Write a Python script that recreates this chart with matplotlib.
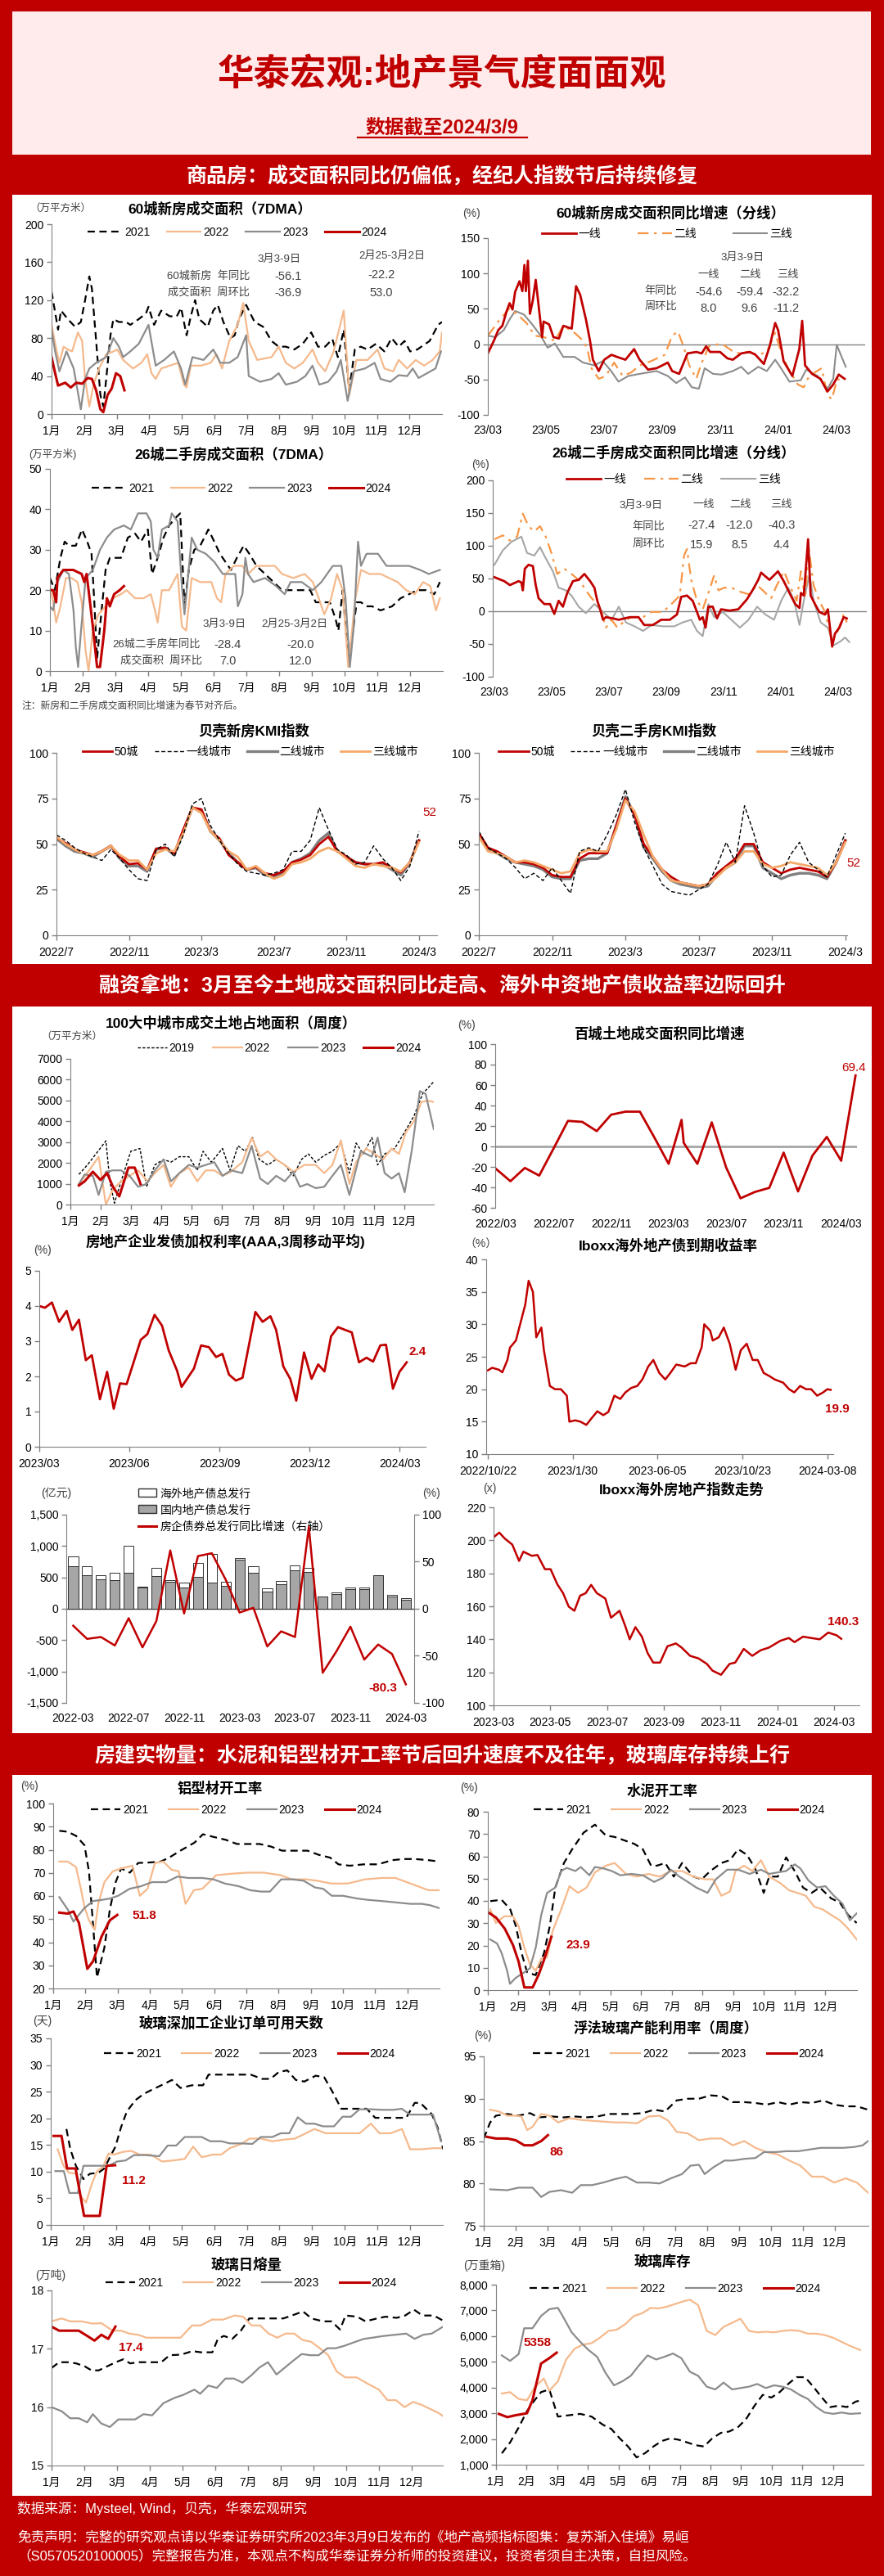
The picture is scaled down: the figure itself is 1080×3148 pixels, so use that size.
import matplotlib
matplotlib.use("Agg")
import matplotlib.pyplot as plt
from matplotlib.patches import Rectangle, Patch
from matplotlib.lines import Line2D
from matplotlib.ticker import FuncFormatter

plt.rcParams["font.family"] = ["Liberation Sans", "Noto Sans CJK SC", "DejaVu Sans"]
plt.rcParams["axes.unicode_minus"] = False

# ---------------- data ----------------
months = ["1月", "2月", "3月", "4月", "5月", "6月", "7月", "8月", "9月", "10月", "11月", "12月"]

# 60城新房成交面积（7DMA，万平方米），x = 月份位置
new60_x_2021 = [0,0.07,0.2,0.29,0.5,0.72,0.9,1.03,1.16,1.24,1.37,1.5,1.59,1.68,1.81,1.9,2.07,2.29,2.42,2.68,2.9,2.98,3.15,3.37,3.63,3.85,3.98,4.15,4.28,4.41,4.54,4.8,4.97,5.11,5.28,5.5,5.63,5.76,5.98,6.24,6.5,6.76,6.98,7.2,7.46,7.72,7.98,8.19,8.41,8.63,8.8,8.98,9.15,9.32,9.5,9.71,9.97,10.23,10.45,10.67,10.85,11.02,11.24,11.45,11.62,11.88,12.0]
new60_2021 = [129,115,89,109,100,92,97,120,145,132,77,20,8,37,83,100,97,97,94,100,106,113,94,109,103,103,112,83,103,120,100,92,109,115,97,80,83,100,115,97,92,77,71,71,68,74,86,71,71,79,60,89,25,68,71,68,74,66,80,71,77,66,68,73,77,94,97]
new60_x_2022 = [0,0.16,0.24,0.37,0.5,0.63,0.81,0.94,1.03,1.16,1.29,1.46,1.68,1.9,2.02,2.2,2.5,2.76,2.94,3.07,3.2,3.37,3.63,3.89,4.07,4.15,4.28,4.59,4.89,5.07,5.24,5.46,5.72,5.89,6.06,6.32,6.76,6.98,7.2,7.46,7.72,8.02,8.19,8.41,8.67,8.98,9.15,9.37,9.71,10.02,10.23,10.5,10.67,10.93,11.19,11.45,11.71,11.93,12.0]
new60_2022 = [94,66,54,71,68,66,86,77,37,8,31,48,63,66,68,57,48,54,63,43,37,48,51,54,31,28,51,51,54,63,48,77,94,117,77,57,60,71,54,48,54,68,54,45,66,109,20,57,57,68,48,45,57,48,57,51,57,66,86]
new60_x_2023 = [0,0.11,0.24,0.46,0.68,0.9,1.03,1.16,1.37,1.68,1.9,2.07,2.2,2.42,2.68,2.98,3.2,3.46,3.76,3.98,4.11,4.33,4.67,4.97,5.19,5.46,5.72,5.98,6.06,6.41,6.76,6.98,7.2,7.54,7.8,8.02,8.23,8.5,8.76,8.89,9.1,9.28,9.63,9.93,10.11,10.41,10.67,10.93,11.1,11.28,11.54,11.8,11.97]
new60_2023 = [89,66,45,66,48,5,37,48,54,60,80,71,60,66,74,94,51,57,66,48,31,60,57,68,54,54,60,83,40,34,37,43,31,34,40,51,31,34,45,57,14,45,48,54,37,34,41,40,48,38,43,48,66]
new60_x_2024 = [0,0.11,0.2,0.42,0.59,0.76,0.94,1.11,1.24,1.37,1.5,1.59,1.72,1.85,1.98,2.11,2.24]
new60_2024 = [60,43,30,33,28,33,32,38,37,25,5,2,20,27,43,40,25]

# 60城新房成交面积同比增速（分线，%），x = 自2023/03起的月数
n60t1_x = [0,0.21,0.36,0.5,0.65,0.75,0.85,0.94,1.09,1.19,1.26,1.31,1.38,1.45,1.55,1.65,1.77,1.87,1.92,2.11,2.26,2.45,2.6,2.89,3.04,3.18,3.38,3.52,3.62,3.82,4.01,4.26,4.45,4.74,5.04,5.23,5.52,5.81,6.01,6.2,6.35,6.59,6.88,7.18,7.37,7.52,7.66,8.0,8.25,8.44,8.73,9.03,9.22,9.51,9.71,9.9,10.0,10.19,10.49,10.73,10.83,10.93,11.17,11.46,11.7,11.9,12.09,12.29]
n60t1 = [-13,5,20,26,47,58,49,74,89,75,112,75,118,43,62,91,47,10,32,28,10,8,26,22,82,70,35,5,-22,-38,-22,-15,-18,-22,-7,-22,-36,-34,-30,-26,-38,-42,-13,-11,-13,-3,-11,-11,-20,-22,-13,-11,-15,-28,-3,30,20,-24,-45,-7,33,-30,-42,-49,-67,-57,-43,-49]
n60t2_x = [0,0.36,0.75,1.04,1.33,1.62,1.92,2.31,2.6,2.99,3.28,3.43,3.57,3.82,4.06,4.35,4.65,4.94,5.23,5.62,6.1,6.35,6.55,6.74,6.94,7.18,7.37,7.62,8.05,8.54,8.93,9.32,9.61,9.9,10.1,10.34,10.68,10.88,11.07,11.5,11.7,11.85,12.04,12.23]
n60t2 = [12,32,51,41,30,12,10,5,26,16,5,-7,-34,-49,-45,-26,-45,-40,-30,-24,-15,12,18,-3,-30,-49,-26,-3,1,-13,-11,-15,-11,16,-11,-34,-57,-61,-45,-34,-72,-78,-49,-53]
n60t3_x = [0,0.26,0.55,0.75,0.94,1.24,1.53,1.82,2.06,2.31,2.6,2.99,3.28,3.67,3.96,4.25,4.5,4.84,5.23,5.81,6.2,6.49,6.79,7.03,7.27,7.47,7.76,8.05,8.44,8.73,8.97,9.32,9.61,9.9,10.1,10.39,10.78,10.97,11.36,11.7,11.9,12.02,12.23,12.33]
n60t3 = [12,10,20,35,47,42,28,12,-5,1,-18,-18,-26,-30,-24,-38,-53,-45,-42,-38,-45,-55,-47,-61,-63,-34,-42,-43,-38,-32,-42,-32,-38,-22,-34,-53,-51,-36,-45,-63,-49,-1,-22,-32]
ym_labels = ["23/03", "23/05", "23/07", "23/09", "23/11", "24/01", "24/03"]

# 26城二手房成交面积（7DMA，万平方米）
s26_x_2021 = [0,0.15,0.32,0.45,0.58,0.79,0.98,1.14,1.27,1.35,1.44,1.53,1.7,1.83,1.96,2.17,2.38,2.6,2.78,2.99,3.12,3.29,3.47,3.64,3.85,3.98,4.11,4.24,4.41,4.59,4.84,5.02,5.19,5.36,5.53,5.71,5.92,6.09,6.31,6.57,6.83,7.09,7.26,7.43,7.73,7.95,8.12,8.38,8.55,8.72,8.81,8.94,9.11,9.24,9.37,9.5,9.67,9.84,10.1,10.45,10.71,10.97,11.22,11.48,11.74,11.91]
s26_2021 = [23,20,28,32,31,31,35,32,29,18,3,11,25,28,28,28,33,34,32,35,24,28,33,36,38,39,16,25,30,31,35,32,29,27,25,28,31,29,26,24,22,20,20,20,20,20,17,17,17,13,10,20,3,9,17,17,16,16,15,16,18,19,20,20,19,22]
s26_x_2022 = [0,0.1,0.19,0.32,0.49,0.66,0.84,0.97,1.09,1.18,1.31,1.48,1.7,1.91,2.17,2.34,2.6,2.86,3.08,3.21,3.29,3.42,3.64,3.9,4.03,4.16,4.33,4.59,4.93,5.1,5.23,5.36,5.62,5.88,6.05,6.31,6.57,6.87,7.09,7.43,7.78,8.03,8.21,8.38,8.59,8.77,8.94,9.11,9.33,9.5,9.76,10.1,10.36,10.62,10.88,11.14,11.4,11.62,11.79,11.91]
s26_2022 = [21,17,12,16,23,23,22,17,5,0,10,14,16,18,19,20,18,18,19,15,12,20,20,24,11,10,23,22,22,18,17,24,26,26,24,26,26,26,24,23,24,22,18,14,18,24,20,1,18,25,24,24,23,22,20,19,22,21,15,18]
s26_x_2023 = [0,0.1,0.23,0.41,0.58,0.72,0.79,0.86,0.95,1.09,1.31,1.53,1.74,1.96,2.26,2.47,2.69,2.95,3.08,3.16,3.29,3.42,3.64,3.72,3.9,4.03,4.11,4.33,4.5,4.76,5.02,5.28,5.53,5.66,5.74,5.88,5.97,6.05,6.22,6.57,6.91,7.17,7.35,7.69,8.03,8.29,8.64,8.9,9.03,9.16,9.28,9.41,9.5,9.67,10.02,10.28,10.62,10.97,11.31,11.57,11.91]
s26_2023 = [16,15,22,25,24,15,6,1,10,23,25,30,33,35,36,35,39,39,37,30,28,35,36,39,37,21,14,33,30,29,27,24,24,24,16,19,28,24,22,23,21,19,22,22,20,22,26,26,18,1,11,32,26,29,29,26,26,26,25,24,25]
s26_x_2024 = [0,0.1,0.19,0.23,0.41,0.71,0.97,1.05,1.12,1.21,1.31,1.44,1.53,1.66,1.74,1.83,1.96,2.13,2.26]
s26_2024 = [20,20,17,23,25,25,24,22,24,18,11,1,1,10,18,16,19,20,21]

# 26城二手房成交面积同比增速（分线，%）
s26t1_x = [0,0.34,0.54,0.84,0.94,0.99,1.06,1.19,1.34,1.44,1.54,1.74,1.94,2.09,2.24,2.39,2.54,2.74,2.94,3.14,3.34,3.49,3.59,3.69,3.79,3.89,4.14,4.34,4.53,4.73,5.03,5.23,5.53,5.82,6.12,6.37,6.52,6.72,6.92,7.07,7.17,7.27,7.37,7.47,7.62,7.77,7.91,8.21,8.51,8.81,9.01,9.21,9.31,9.6,9.9,10.1,10.3,10.5,10.65,10.7,10.8,10.95,11.04,11.19,11.34,11.54,11.64,11.79,11.89,12.04,12.19,12.3]
s26t1 = [52,46,40,46,44,32,65,71,69,40,20,11,11,-4,16,7,28,46,48,57,46,36,16,3,-13,-9,-11,-13,-11,-9,-9,-21,-21,-13,-13,-5,22,24,16,-1,-13,-9,-25,7,7,-11,3,1,3,18,32,48,59,48,61,46,28,11,5,28,24,110,24,11,-1,-5,3,-54,-34,-25,-9,-11]
s26t2_x = [0,0.29,0.54,0.79,0.99,1.19,1.39,1.59,1.79,1.99,2.19,2.44,2.69,2.99,3.19,3.39,3.59,3.74,3.89,4.09,4.29,4.59,4.79,5.19,5.48,5.88,6.18,6.47,6.62,6.72,6.87,7.07,7.27,7.47,7.67,7.82,8.02,8.27,8.57,8.87,9.17,9.46,9.66,9.86,10.11,10.3,10.55,10.7,10.85,10.97,11.14,11.34,11.54,11.79,11.99,12.19,12.3]
s26t2 = [110,116,108,114,149,130,122,130,114,89,57,65,57,46,32,20,11,-1,-25,-13,-25,-13,-9,-9,-1,-1,11,24,85,95,48,16,3,28,55,32,36,36,30,26,40,28,20,40,61,40,16,61,20,98,40,16,-1,-46,-30,-5,-17]
s26t3_x = [0,0.29,0.59,0.94,1.14,1.39,1.59,1.79,2.04,2.24,2.49,2.69,2.94,3.19,3.49,3.79,4.09,4.34,4.59,4.89,5.19,5.48,5.88,6.28,6.57,6.87,7.07,7.27,7.47,7.67,7.97,8.27,8.57,8.87,9.17,9.46,9.76,10.01,10.26,10.46,10.65,10.8,11.0,11.14,11.39,11.64,11.84,12.08,12.24,12.39]
s26t3 = [71,93,106,114,89,85,98,81,61,36,32,24,7,-3,11,-1,-13,7,-17,-23,-30,-21,-23,-23,-17,-13,-30,-38,11,-9,-1,-13,-25,-13,7,-5,-13,16,36,16,-21,16,57,16,-17,-25,-52,-46,-40,-47]

# 贝壳KMI指数（半月，自2022/7起）
kmi_x = [i / 2 for i in range(41)]
kmi_labels = ["2022/7", "2022/11", "2023/3", "2023/7", "2023/11", "2024/3"]
kmi_new_50 = [53.5,50.5,47,45.5,44,46,49,43,39,39.5,36,47.5,48,45,58,70,69,57,53,44,40,36,37.5,34,33,35,40,41.5,44,50,54,46,43,40,39,39,40,37,34.5,40,52]
kmi_new_t1 = [55,52,48,45,43,41,47,42,36,31,30,47,50,43,55,72,75,60,52,45,39,35,34,33,34,36,46,46,52,70,58,47,44,39,40,49,42,37,30,38,57]
kmi_new_t2 = [53,49,46,45,43,46,49,42,38,38,35,47,48,44,57,70,68,57,52,45,40,36,37,33,32,34,40,42,45,52,56,46,43,40,39,39,39,36,33,40,52]
kmi_new_t3 = [54,50,47,45,44,46,49,44,41,41,36,45,47,46,56,70,67,57,52,46,43,36,38,34,31,33,39,40,42,46,48,46,42,38,37,39,38,37,35,40,51]
kmi_old_50 = [56,48,46,43,40,40,39,37,33,32,32,42,45,45,45,60,75,66,50,43,36,32,29,28,27,28,34,38,42,50,50,40,37,34,36,37,36,35,32,40,52]
kmi_old_t1 = [57,48,45,42,37,31,34,30,37,30,23,46,48,46,55,66,80,62,48,38,28,24,23,22,25,28,38,51,40,71,56,38,32,33,44,51,40,36,32,44,56]
kmi_old_t2 = [55,47,45,42,40,39,38,36,32,31,31,41,42,42,45,60,76,66,48,42,35,30,28,27,26,27,33,37,40,49,49,37,34,31,33,34,34,33,31,40,52]
kmi_old_t3 = [54,46,45,43,40,41,40,38,36,34,35,45,47,46,46,58,74,68,55,43,36,30,29,28,27,28,32,37,40,46,46,39,37,38,40,39,38,37,33,40,51]

# 100大中城市成交土地占地面积（周度，万平方米）
land_x_2019 = [0.28,0.56,0.84,1.17,1.3,1.45,1.67,1.99,2.29,2.51,2.78,3.07,3.31,3.59,3.9,4.18,4.37,4.64,5.01,5.26,5.52,5.76,6.0,6.22,6.5,6.78,7.06,7.34,7.61,7.84,8.08,8.36,8.63,8.91,9.19,9.41,9.65,9.93,10.12,10.35,10.68,11.01,11.32,11.6,11.97]
land_2019 = [1445,1904,2430,3060,1116,66,1116,2561,2692,854,1904,2167,2036,2298,2298,1642,2561,2036,2692,1642,2824,2561,3218,2167,1904,2167,1904,1379,2167,2430,2036,2364,2561,2955,1510,2955,2430,3218,1904,2430,2692,3480,4268,5319,5910]
land_x_2022 = [0.28,0.62,0.93,1.17,1.4,1.67,1.95,2.23,2.54,2.78,3.07,3.31,3.59,3.9,4.18,4.46,4.74,5.01,5.29,5.66,5.97,6.25,6.5,6.78,7.06,7.34,7.71,8.08,8.36,8.63,8.91,9.19,9.41,9.74,10.02,10.3,10.58,10.82,11.05,11.32,11.56,11.79,11.97]
land_2022 = [985,1642,2298,0,722,1116,1379,1642,1116,1510,1904,854,1510,1773,1116,1642,1642,1379,1576,2036,3218,2298,2561,2167,1904,1576,1904,1904,1510,1904,3086,985,2036,2692,2430,2167,2692,2430,3480,4006,4925,4991,4925]
land_x_2023 = [0.28,0.47,0.74,0.93,1.17,1.4,1.67,1.95,2.23,2.51,2.78,3.07,3.31,3.59,3.9,4.18,4.46,4.74,5.01,5.29,5.66,5.97,6.25,6.5,6.78,7.06,7.34,7.56,7.8,8.08,8.36,8.63,8.91,9.19,9.56,9.93,10.12,10.35,10.58,10.82,11.01,11.24,11.51,11.7,11.97]
land_2023 = [985,1445,1379,460,1576,1642,1642,1379,854,985,1642,2167,1116,1510,1904,1773,1904,2036,1379,1642,1510,2824,1248,985,1379,1116,1576,854,985,788,854,1379,1904,460,2561,2298,3218,1510,1248,1510,591,2561,5450,5319,3612]
land_x_2024 = [0.28,0.47,0.74,0.99,1.21,1.4,1.61,1.91,2.12,2.31]
land_2024 = [919,1116,1576,1182,1510,854,394,1773,1773,985]

# 百城土地成交面积同比增速（%），x = 自2022/03起的月数
land_yoy_x = [0,1,2,3,4,5,6,7,8,9,10,11,12,12.9,13.05,14,15,16,17,18,19,20,21,22,23,24,25]
land_yoy = [-22,-34,-21,-28.5,-2,25,24,15,31,34,34,9,-17,26,3.5,-17,23.5,-20.5,-50.7,-44.5,-40.5,-6,-44,-9,9.3,-14,69.4]
land_yoy_labels = ["2022/03", "2022/07", "2022/11", "2023/03", "2023/07", "2023/11", "2024/03"]

# 房地产企业发债加权利率（AAA，3周移动平均，%），x = 自2023/03起的月数
rate_x = [0,0.19,0.42,0.66,0.91,1.1,1.32,1.55,1.75,2.02,2.26,2.48,2.69,2.91,3.38,3.6,3.84,4.09,4.31,4.59,4.74,5.15,5.39,5.65,5.89,6.1,6.32,6.55,6.77,7.2,7.44,7.7,7.89,8.13,8.36,8.56,8.82,9.07,9.29,9.5,9.72,9.95,10.19,10.41,10.65,10.9,11.12,11.36,11.55,11.78,12.0,12.24]
rate = [4.0,3.95,4.1,3.55,3.86,3.32,3.61,2.46,2.6,1.35,2.13,1.08,1.8,1.78,3.04,3.2,3.75,3.44,2.74,2.16,1.7,2.22,2.88,2.83,2.55,2.64,2.05,1.88,1.96,3.83,3.55,3.71,3.32,2.28,1.93,1.31,2.68,1.93,2.34,2.14,3.14,3.4,3.32,3.25,2.4,2.53,2.42,2.88,2.9,1.65,2.13,2.4]
rate_labels = ["2023/03", "2023/06", "2023/09", "2023/12", "2024/03"]

# Iboxx海外地产债到期收益率（%），x = 分类轴位置
yld_x = [0,0.05,0.13,0.17,0.23,0.26,0.33,0.4,0.44,0.48,0.53,0.57,0.63,0.66,0.73,0.79,0.86,0.93,0.96,1.03,1.09,1.16,1.22,1.29,1.36,1.42,1.49,1.56,1.62,1.69,1.76,1.82,1.89,1.95,2.02,2.09,2.15,2.22,2.32,2.39,2.45,2.52,2.55,2.62,2.65,2.72,2.78,2.85,2.92,2.98,3.05,3.12,3.18,3.25,3.32,3.38,3.48,3.55,3.61,3.68,3.75,3.81,3.88,3.95,4.0,4.04]
yld = [22.9,23.3,23.0,22.6,24.5,26.4,27.5,31,33,36.7,35,28,29.5,26,20.5,20,20,19,15,15.2,15,14.5,15.5,16.6,16,16.5,19,18.5,19.5,20.2,20.5,21.5,23.5,24.5,22.5,21.5,22.5,23.8,23.5,24,24,26.5,30,29,27.5,28,29.5,27,23,26,27,24.5,24.5,22.5,22,21.5,21,20,19.5,20.5,20,20,19,19.5,20,19.9]
yld_labels = ["2022/10/22", "2023/1/30", "2023-06-05", "2023/10/23", "2024-03-08"]

# 地产债发行（亿元）与同比（%）
bond_labels = ["2022-03", "2022-07", "2022-11", "2023-03", "2023-07", "2023-11", "2024-03"]
bond_domestic = [680,530,470,460,570,340,520,430,340,510,420,360,780,580,280,390,610,590,190,230,310,310,530,190,140]
bond_overseas = [160,150,70,120,430,10,130,30,80,220,460,70,30,100,40,50,80,60,10,30,30,30,10,30,30]
bond_yoy = [-18,-32,-30,-39,-10,-41,-13,62,-5,56,59,31,-4,1,-40,-24,-30,87,-68,-45,-19,-54,-38,-48,-80.3]

# Iboxx海外房地产指数（x），x = 自2023/03起的月数
idx_x = [0,0.2,0.4,0.66,0.9,1.05,1.35,1.55,1.81,2.01,2.25,2.45,2.65,2.85,3.05,3.25,3.44,3.64,3.94,4.14,4.44,4.64,4.8,5.0,5.23,5.43,5.63,5.87,6.13,6.43,6.63,6.93,7.23,7.52,7.72,8.02,8.32,8.52,8.82,9.12,9.42,9.71,10.11,10.41,10.61,10.91,11.2,11.5,11.8,12.1,12.26]
idx = [201.8,204.7,201,197.4,187.5,193.1,190.6,191.1,182.5,182.5,173.3,168,159.8,157.3,166.4,168,173,168,164.7,153.1,157.3,148.2,140,147.4,141.6,131.7,125.9,125.9,135.8,137.5,135,130,128.4,125.1,121,118.5,125.1,125.9,134.2,130,133.4,135,139.1,140.8,138.3,141.6,140.8,140,144.1,142.4,140.3]
idx_labels = ["2023-03", "2023-05", "2023-07", "2023-09", "2023-11", "2024-01", "2024-03"]

# 铝型材开工率（%）
al_x_2021 = [0.19,0.45,0.71,0.97,1.11,1.24,1.36,1.59,1.76,1.94,2.11,2.38,2.64,2.99,3.34,3.6,3.95,4.39,4.65,5.0,5.36,5.71,6.06,6.41,6.76,7.11,7.46,7.9,8.25,8.6,8.86,9.21,9.65,10.09,10.53,10.88,11.23,11.66,11.98]
al_2021 = [88.2,87.8,86,82,70.7,47.1,24.7,37.7,54.2,66,71.9,70.1,74.3,74.5,74.9,76.6,79.6,83.1,86.7,85.5,84.3,82.5,82.5,82.5,81.4,79.6,79.6,79.6,77.8,76.6,73.7,73.1,73.7,73.7,75.5,76,76,75.5,74.9]
al_x_2022 = [0.19,0.45,0.71,0.85,0.97,1.11,1.29,1.4,1.59,1.85,2.11,2.46,2.69,2.93,3.16,3.42,3.68,3.9,4.11,4.37,4.63,5.06,5.5,6.02,6.54,7.06,7.41,7.85,8.2,8.63,9.15,9.68,10.2,10.63,10.98,11.33,11.66,11.98]
al_2022 = [74.9,74.9,72.5,63.7,55.4,49.5,45.4,56.6,66,70.7,71.9,73.1,60.1,63.1,74.3,74.9,71.3,70.7,56.6,62.5,63.1,69,69.6,70.1,70.1,69,67.2,67.2,66.6,65.4,65.4,67.2,67.8,67.8,66,64.2,62.5,62.5]
al_x_2023 = [0.19,0.45,0.63,0.8,0.97,1.24,1.5,1.76,2.02,2.37,2.72,3.07,3.51,3.86,4.2,4.63,4.98,5.33,5.77,6.12,6.47,6.73,7.08,7.43,7.78,8.13,8.39,8.65,9.0,9.44,9.79,10.22,10.66,11.1,11.45,11.71,11.98]
al_2023 = [59.5,54.2,48.9,51.9,54.8,57.8,58.3,58.9,60.1,63.1,64.2,66,66,68.4,67.8,67.8,67.2,65.4,64.2,62.5,61.9,61.9,67.2,67.2,66.6,63.7,63.1,60.1,60.1,58.9,58.3,57.8,57.2,56.6,56.6,56,54.8]
al_x_2024 = [0.19,0.45,0.63,0.8,0.94,1.06,1.24,1.5,1.76,1.99]
al_2024 = [52.8,52.4,53.3,48.3,37.7,28.5,31.8,42.4,49.5,51.8]

# 水泥开工率（%）
ce_x_2021 = [0.08,0.45,0.73,0.91,1.1,1.28,1.56,1.83,2.02,2.2,2.48,2.75,3.12,3.49,3.85,4.13,4.5,4.77,5.05,5.32,5.51,5.78,6.06,6.33,6.7,6.97,7.25,7.61,7.89,8.16,8.44,8.71,8.99,9.17,9.45,9.72,10.0,10.27,10.55,10.82,11.19,11.47,11.74,12.02]
ce_2021 = [39.9,40.5,36.2,28.8,16.6,8,6.7,16.6,28.8,46,57,63.2,70.6,74.2,69.3,68.7,66.9,65.6,63.2,55.8,55.8,57,50.9,57,50.9,49.7,53.4,57,58.3,63.2,60.7,54.6,43.6,50.9,50.9,59.5,53.4,46,43.6,46,41.1,39.3,33.7,30.1]
ce_x_2022 = [0.08,0.26,0.54,0.82,1.0,1.19,1.37,1.56,1.74,1.93,2.11,2.39,2.66,2.94,3.22,3.49,3.85,4.13,4.5,4.86,5.23,5.6,5.97,6.33,6.7,7.07,7.34,7.61,7.89,8.07,8.35,8.62,8.9,9.17,9.54,9.81,10.09,10.36,10.64,10.91,11.19,11.47,11.74,12.02]
ce_2022 = [36.2,30.1,33.1,33.1,28.8,19,11.7,8.6,14.1,14.7,26.4,36.2,46.6,43.6,46,52.8,55.8,57,52.1,50.9,52.1,50.9,53.4,53.4,50.9,49.7,49.7,42.3,44.2,53.4,55.8,53.4,58.3,50.9,47.9,44.8,43.6,42.3,37.4,36.2,33.7,31.3,27.6,22.7]
ce_x_2023 = [0.08,0.3,0.45,0.63,0.72,0.91,1.19,1.37,1.56,1.74,1.93,2.2,2.39,2.57,2.85,3.03,3.31,3.49,3.76,4.04,4.32,4.68,5.05,5.42,5.69,5.97,6.24,6.52,6.79,7.16,7.43,7.8,8.16,8.53,8.9,9.17,9.45,9.72,10.0,10.18,10.45,10.73,11.0,11.28,11.56,11.8,12.02]
ce_2023 = [22.7,20.9,16.6,8.6,2.8,5.5,8,9.8,19,33.7,43.6,46,53.4,54.8,53.4,55.2,51.5,55.2,54.6,53.4,51.5,52.1,51.5,48.5,50.3,54,50.9,48.5,46,43.6,49.7,54,54,52.1,54,52.1,52.8,53.4,56.4,54.6,49.1,46,46.6,42.3,38.7,31.3,34.4]
ce_x_2024 = [0,0.27,0.55,0.82,1.0,1.19,1.46,1.65,1.83,2.07]
ce_2024 = [35,32.5,27.6,20.2,12.9,1.2,1.2,6.7,13.5,23.9]

# 玻璃深加工企业订单可用天数（天）
gd_x_2021 = [0.48,0.6,0.77,1.0,1.2,1.46,1.64,1.81,1.98,2.15,2.33,2.59,2.85,3.11,3.45,3.71,3.97,4.32,4.66,4.83,5.17,5.52,5.86,6.12,6.47,6.73,6.98,7.24,7.5,7.76,8.11,8.37,8.63,8.89,9.06,9.32,9.67,9.93,10.19,10.53,10.88,11.14,11.31,11.66,11.84,12.01]
gd_2021 = [18,14.2,11.1,8.6,9.6,9.8,10.6,12.7,14.7,18.3,21.3,23.4,24.6,25.4,26.4,27.2,25.7,26.2,26.2,28.2,28.2,28.2,28.2,28.2,27.4,27.4,28.7,29,27.2,26.9,28,27.7,24.9,21.8,21.8,21.8,21.8,20.1,20.1,20.1,20.1,22.9,22.9,20.8,18.3,14.2]
gd_x_2022 = [0.21,0.39,0.56,0.78,0.9,1.08,1.25,1.42,1.6,1.77,1.94,2.2,2.46,2.72,3.06,3.41,3.75,4.1,4.36,4.62,4.96,5.22,5.48,5.83,6.09,6.43,6.78,7.12,7.47,7.81,8.07,8.42,8.76,9.11,9.45,9.8,10.06,10.4,10.75,11.0,11.35,11.7,11.95]
gd_2022 = [14.2,11.1,9.8,9.6,5.5,4.2,7.6,10.1,10.9,13.4,13.2,13.7,13.9,13.2,13.2,11.9,12.1,12.4,14.7,12.7,13.2,13.2,14.4,15.2,16.2,16.2,15.7,16,16.2,17.2,18,17.2,17.2,17.2,17.2,19,17.2,17.2,18,14.2,14.2,14.4,14.4]
gd_x_2023 = [0.14,0.4,0.57,0.83,1.0,1.25,1.51,1.77,2.03,2.29,2.55,2.89,3.32,3.58,3.84,4.1,4.36,4.62,4.88,5.22,5.48,5.83,6.17,6.43,6.78,7.04,7.3,7.56,7.81,8.07,8.33,8.67,8.93,9.19,9.45,9.8,10.14,10.49,10.74,11.0,11.35,11.7,11.95]
gd_2023 = [10.1,10.1,6,6,11.1,11.1,11.1,11.1,11.9,12.1,13.1,13.1,12.9,14.9,14.9,16.5,16.5,16.5,15.7,15.7,15.3,15.3,15.2,16.5,16.5,17.2,17.2,20.2,19,19,18.5,18.5,20.3,20.3,21.7,21.7,21.6,21.6,21.8,20.7,20.7,20.7,15.7]
gd_x_2024 = [0.09,0.33,0.5,0.76,1.02,1.28,1.5,1.71,1.97]
gd_2024 = [16.7,16.7,10.6,10.6,1.7,1.7,1.7,11.1,11.2]

# 浮法玻璃产能利用率（周度，%）
fg_x_2021 = [0,0.2,0.38,0.74,1.09,1.45,1.71,2.15,2.5,2.86,3.21,3.56,3.92,4.27,4.62,4.98,5.33,5.68,6.04,6.39,6.74,7.1,7.45,7.8,8.16,8.51,8.86,9.22,9.57,9.92,10.28,10.63,10.98,11.33,11.69,12.04]
fg_2021 = [85.3,87.2,88,88.2,88,88.3,87.8,87.9,87.8,87.9,87.8,87.9,88.2,88.2,88.2,88.3,88.7,88.5,89.8,90,90,90.4,90.3,89.6,89.6,89.5,89.3,89.6,89.3,89.6,89.5,89.8,89.3,89.1,89.1,88.7]
fg_x_2022 = [0.2,0.47,0.74,1.0,1.18,1.36,1.53,1.8,2.06,2.33,2.68,3.04,3.39,3.74,4.1,4.45,4.8,5.16,5.51,5.78,6.04,6.39,6.74,7.1,7.45,7.8,8.16,8.51,8.86,9.22,9.57,9.92,10.28,10.63,10.98,11.33,11.69,12.04]
fg_2022 = [88.7,88.5,88,88,87.9,86.3,86.7,88.2,88,87.2,87.7,87.5,87.4,87.3,87.2,87.2,87.1,87.9,88,87.4,86.1,85.9,85.1,85.3,85.3,84.5,85,84.2,83.7,83.4,82.7,82.1,80.8,80.8,80.1,80.6,80.1,78.9]
fg_x_2023 = [0.2,0.74,1.09,1.53,1.8,2.06,2.42,2.77,3.04,3.39,3.74,4.1,4.45,4.8,5.16,5.51,5.86,6.21,6.48,6.74,6.92,7.19,7.54,7.8,8.16,8.51,8.78,9.13,9.48,9.84,10.2,10.55,10.9,11.25,11.6,11.87,12.04]
fg_2023 = [79.3,79.2,79.5,79.5,78.4,79,79.2,78.9,79.8,79.8,80.1,80.5,80.8,80.1,80.1,80,80.6,81.1,82.1,82.2,81.1,81.9,82.7,82.7,82.9,83,83.7,83.7,83.8,83.8,84,84.2,84.2,84.2,84.3,84.5,85]
fg_x_2024 = [0.1,0.38,0.74,1.0,1.27,1.53,1.8,2.01]
fg_2024 = [85.5,85.3,85.3,85.1,84.5,84.5,85,85.7]

# 玻璃日熔量（万吨）
ml_x_2021 = [0,0.23,0.49,0.75,1.01,1.22,1.44,1.7,1.96,2.19,2.4,2.66,3.0,3.35,3.61,3.96,4.3,4.56,4.91,5.08,5.26,5.52,5.78,6.04,6.39,6.73,7.08,7.34,7.68,7.94,8.29,8.55,8.81,8.98,9.33,9.59,9.94,10.2,10.54,10.8,11.07,11.33,11.67,12.0]
ml_2021 = [16.67,16.77,16.77,16.75,16.7,16.63,16.63,16.7,16.77,16.82,16.75,16.77,16.77,16.77,16.89,16.9,16.96,16.94,16.94,17.17,17.22,17.17,17.31,17.52,17.52,17.52,17.52,17.57,17.64,17.52,17.47,17.47,17.33,17.57,17.55,17.47,17.52,17.55,17.53,17.57,17.67,17.57,17.57,17.47]
ml_x_2022 = [0,0.31,0.57,0.91,1.26,1.52,1.86,2.12,2.38,2.64,2.9,3.25,3.59,3.94,4.29,4.55,4.9,5.24,5.59,5.85,6.11,6.37,6.63,6.89,7.15,7.41,7.67,7.93,8.19,8.45,8.71,8.97,9.32,9.66,10.0,10.26,10.52,10.78,11.04,11.3,11.56,11.82,12.0]
ml_2022 = [17.47,17.52,17.47,17.47,17.43,17.44,17.31,17.31,17.26,17.24,17.19,17.19,17.19,17.19,17.4,17.4,17.5,17.5,17.57,17.55,17.4,17.4,17.26,17.19,17.26,17.26,17.15,17.12,17.01,16.89,16.61,16.51,16.51,16.4,16.3,16.12,16.12,16.0,16.09,16.04,15.97,15.9,15.83]
ml_x_2023 = [0,0.31,0.57,0.83,1.09,1.26,1.52,1.78,2.04,2.29,2.55,2.81,3.07,3.42,3.76,4.02,4.36,4.54,4.79,5.05,5.31,5.57,5.83,6.09,6.35,6.61,6.87,7.13,7.39,7.64,7.9,8.16,8.42,8.68,8.94,9.28,9.54,9.8,10.15,10.49,10.83,11.09,11.35,11.61,11.96]
ml_2023 = [16.0,15.93,15.81,15.81,15.74,15.88,15.72,15.66,15.79,15.79,15.79,15.88,15.86,16.07,16.16,16.21,16.3,16.23,16.37,16.33,16.49,16.49,16.42,16.54,16.68,16.77,16.56,16.68,16.8,16.91,16.89,16.89,17.01,17.01,17.05,17.12,17.17,17.19,17.22,17.24,17.26,17.17,17.24,17.26,17.38]
ml_x_2024 = [0,0.23,0.57,0.83,1.09,1.31,1.52,1.73,1.95]
ml_2024 = [17.38,17.31,17.31,17.31,17.22,17.14,17.24,17.17,17.38]

# 玻璃库存（万重箱）
inv_x_2021 = [0.19,0.46,0.74,1.01,1.19,1.47,1.74,2.02,2.38,2.75,3.12,3.49,3.76,4.04,4.31,4.59,4.86,5.14,5.41,5.69,5.96,6.24,6.51,6.79,7.06,7.34,7.61,7.89,8.16,8.44,8.71,8.99,9.26,9.54,9.81,10.09,10.36,10.64,10.91,11.19,11.46,11.74,11.92]
inv_2021 = [1444,1867,2448,3082,3400,3822,3928,2871,2924,2977,2871,2554,2395,2025,1708,1285,1444,1708,1920,2025,1973,1867,1761,1708,2025,2237,2290,2448,2765,3294,3717,3611,3822,4140,4404,4404,4034,3611,3241,3294,3241,3452,3505]
inv_x_2022 = [0.19,0.46,0.74,1.01,1.28,1.56,1.74,2.02,2.29,2.57,2.84,3.12,3.39,3.67,3.95,4.22,4.5,4.77,5.05,5.32,5.6,5.87,6.15,6.33,6.6,6.88,7.16,7.43,7.71,7.98,8.26,8.53,8.81,9.08,9.36,9.63,9.91,10.18,10.46,10.73,11.01,11.28,11.56,11.89]
inv_2022 = [3770,3822,3558,3505,4034,4351,3875,4245,5090,5514,5672,5725,5937,6201,6254,6465,6782,6888,7099,7078,7152,7258,7364,7416,7205,6201,6042,6360,6518,6677,6201,6148,6170,6148,6201,6233,6201,6095,6095,6042,5937,5778,5620,5461]
inv_x_2023 = [0.19,0.46,0.74,0.92,1.19,1.47,1.74,2.02,2.2,2.47,2.75,3.02,3.3,3.58,3.85,4.13,4.4,4.68,4.95,5.23,5.5,5.78,6.05,6.33,6.6,6.88,7.16,7.43,7.71,7.98,8.26,8.53,8.81,9.08,9.36,9.63,9.91,10.18,10.46,10.73,11.01,11.28,11.56,11.89]
inv_2023 = [5250,5038,5302,6307,6307,6782,7047,7099,6730,6148,5778,5461,5197,4562,4087,4245,4457,4879,5250,5090,5197,5323,5144,4615,4457,4034,3928,4193,3928,3981,4034,4140,3981,4087,4034,3928,3717,3558,3241,3030,2977,3030,2977,3000]
inv_x_2024 = [0.09,0.37,0.64,1.01,1.19,1.47,1.74,1.98]
inv_2024 = [2977,2850,2924,3000,3505,4932,5144,5358]

# ---------------- styles ----------------
RED = "#C00000"
ORANGE = "#F5B98C"
ORANGE2 = "#F79646"
GRAY = "#8C8C8C"
AXIS = "#808080"
W, H = 1080, 3148

YEAR_STYLE = {
    "2019": dict(color="black", lw=1.0, ls=(0, (2.5, 1.5))),
    "2021": dict(color="black", lw=1.6, ls=(0, (4, 2.5))),
    "2022": dict(color=ORANGE, lw=1.6),
    "2023": dict(color=GRAY, lw=1.6),
    "2024": dict(color=RED, lw=2.2),
}

fig = plt.figure(figsize=(W / 100, H / 100), dpi=100, facecolor=RED)


def rect(x0, y0, x1, y1, color):
    fig.add_artist(Rectangle((x0 / W, 1 - y1 / H), (x1 - x0) / W, (y1 - y0) / H,
                             transform=fig.transFigure, facecolor=color, edgecolor="none", zorder=0))


def put(x, y, s, size=10, color="black", ha="center", weight="normal", **kw):
    fig.text(x / W, 1 - y / H, s, fontsize=size, color=color, ha=ha, va="center",
             fontweight=weight, **kw)


def make_ax(x0, y0, x1, y1):
    ax = fig.add_axes([x0 / W, 1 - y1 / H, (x1 - x0) / W, (y1 - y0) / H])
    ax.patch.set_alpha(0)
    for s in ("top", "right"):
        ax.spines[s].set_visible(False)
    for s in ("left", "bottom"):
        ax.spines[s].set_color(AXIS)
    ax.tick_params(direction="out", length=4, width=1, color=AXIS, labelsize=10, pad=3)
    ax.tick_params(axis="x", pad=6)
    return ax


def zero_axis(ax, color=AXIS, lw=1.0):
    ax.spines["bottom"].set_visible(False)
    ax.axhline(0, color=color, lw=lw, zorder=1)
    ax.tick_params(axis="x", length=0, pad=9)


def legend(ax, cx, cy, colsp=1.6, hl=3.0, size=10, ncol=4):
    ax.legend(loc="center", bbox_to_anchor=(cx / W, 1 - cy / H), bbox_transform=fig.transFigure,
              ncol=ncol, frameon=False, fontsize=size, handlelength=hl, handletextpad=0.2,
              columnspacing=colsp, borderpad=0)


def year_chart(ax, series, xlim, ylim, yticks):
    for year, xs, ys in series:
        ax.plot(xs, ys, label=year, **YEAR_STYLE[year])
    ax.set_xlim(*xlim)
    ax.set_ylim(*ylim)
    ax.set_yticks(yticks)
    ax.set_xticks(range(12))
    ax.set_xticklabels(months)


# ---------------- backgrounds ----------------
rect(15, 14, 1064, 189, "#FFEBEB")
rect(15, 238, 1065, 1178, "white")
rect(15, 1230, 1065, 2118, "white")
rect(15, 2169, 1065, 3050, "white")

put(540, 92, "华泰宏观:地产景气度面面观", size=32, color=RED, weight="bold")
put(540, 156, "数据截至2024/3/9", size=17, color=RED, weight="bold")
fig.add_artist(Line2D([437 / W, 644 / W], [1 - 168 / H, 1 - 168 / H], transform=fig.transFigure,
                      color=RED, lw=1.6))
put(540, 216, "商品房：成交面积同比仍偏低，经纪人指数节后持续修复", size=18, color="white", weight="bold")
put(540, 1205, "融资拿地：3月至今土地成交面积同比走高、海外中资地产债收益率边际回升", size=18,
    color="white", weight="bold")
put(540, 2146, "房建实物量：水泥和铝型材开工率节后回升速度不及往年，玻璃库存持续上行", size=18,
    color="white", weight="bold")

TABLE = "#404040"

# ---------------- 1. 60城新房成交面积 ----------------
ax = make_ax(63, 274, 540, 506)
year_chart(ax, [("2021", new60_x_2021, new60_2021), ("2022", new60_x_2022, new60_2022),
                ("2023", new60_x_2023, new60_2023), ("2024", new60_x_2024, new60_2024)],
           (0, 12), (0, 200), range(0, 201, 40))
legend(ax, 290, 284, colsp=1.5)
put(269, 255, "60城新房成交面积（7DMA）", size=12.5, weight="bold")
put(74, 255, "（万平方米）", size=9, color=TABLE)
put(341, 317, "3月3-9日", size=9.5, color=TABLE)
put(479, 313, "2月25-3月2日", size=9.5, color=TABLE)
put(255, 337, "60城新房  年同比", size=9.5, color=TABLE)
put(255, 357, "成交面积  周环比", size=9.5, color=TABLE)
put(352, 338, "-56.1", size=10.5, color=TABLE)
put(352, 358, "-36.9", size=10.5, color=TABLE)
put(466, 336, "-22.2", size=10.5, color=TABLE)
put(466, 358, "53.0", size=10.5, color=TABLE)

# ---------------- 2. 60城新房同比（分线） ----------------
ax = make_ax(596, 291, 1057, 507)
zero_axis(ax)
ax.plot(n60t3_x, n60t3, color=GRAY, lw=1.5, label="三线")
ax.plot(n60t2_x, n60t2, color=ORANGE2, lw=1.6, ls=(0, (6, 3, 1.5, 3)), label="二线")
ax.plot(n60t1_x, n60t1, color=RED, lw=2.0, label="一线")
ax.set_xlim(0, 13)
ax.set_ylim(-100, 150)
ax.set_yticks(range(-100, 151, 50))
ax.set_xticks(range(0, 13, 2))
ax.set_xticklabels(ym_labels)
h, l = ax.get_legend_handles_labels()
ax.legend(h[::-1], l[::-1], loc="center", bbox_to_anchor=(815 / W, 1 - 286 / H),
          bbox_transform=fig.transFigure, ncol=3, frameon=False, fontsize=10, handlelength=3,
          handletextpad=0.2, columnspacing=3.2)
put(819, 260, "60城新房成交面积同比增速（分线）", size=12.5, weight="bold")
put(576, 261, "(%)", size=10, color=TABLE)
put(907, 315, "3月3-9日", size=9.5, color=TABLE)
for cx, s in ((866, "一线"), (916, "二线"), (962, "三线")):
    put(cx, 336, s, size=9.5, color=TABLE)
put(807, 355, "年同比", size=9.5, color=TABLE)
put(807, 375, "周环比", size=9.5, color=TABLE)
for cx, a, b in ((866, "-54.6", "8.0"), (916, "-59.4", "9.6"), (960, "-32.2", "-11.2")):
    put(cx, 357, a, size=10.5, color=TABLE)
    put(cx, 377, b, size=10.5, color=TABLE)

# ---------------- 3. 26城二手房成交面积 ----------------
ax = make_ax(61, 573, 541, 820)
year_chart(ax, [("2021", s26_x_2021, s26_2021), ("2022", s26_x_2022, s26_2022),
                ("2023", s26_x_2023, s26_2023), ("2024", s26_x_2024, s26_2024)],
           (0, 12), (0, 50), range(0, 51, 10))
legend(ax, 295, 597, colsp=1.5)
put(285, 555, "26城二手房成交面积（7DMA）", size=12.5, weight="bold")
put(64, 555, "(万平方米)", size=9, color=TABLE)
put(274, 763, "3月3-9日", size=9.5, color=TABLE)
put(360, 763, "2月25-3月2日", size=9.5, color=TABLE)
put(191, 787, "26城二手房年同比", size=9.5, color=TABLE)
put(197, 807, "成交面积  周环比", size=9.5, color=TABLE)
put(278, 788, "-28.4", size=10.5, color=TABLE)
put(278, 808, "7.0", size=10.5, color=TABLE)
put(367, 788, "-20.0", size=10.5, color=TABLE)
put(367, 808, "12.0", size=10.5, color=TABLE)
put(26, 863, "注：新房和二手房成交面积同比增速为春节对齐后。", size=8.5, color=TABLE, ha="left")

# ---------------- 4. 26城二手房同比（分线） ----------------
ax = make_ax(602, 587, 1059, 827)
zero_axis(ax)
ax.plot(s26t3_x, s26t3, color="#A6A6A6", lw=1.5, label="三线")
ax.plot(s26t2_x, s26t2, color=ORANGE2, lw=1.6, ls=(0, (6, 3, 1.5, 3)), label="二线")
ax.plot(s26t1_x, s26t1, color=RED, lw=2.0, label="一线")
ax.set_xlim(-0.06, 13)
ax.set_ylim(-100, 200)
ax.set_yticks(range(-100, 201, 50))
ax.set_xticks(range(0, 13, 2))
ax.set_xticklabels(ym_labels)
h, l = ax.get_legend_handles_labels()
ax.legend(h[::-1], l[::-1], loc="center", bbox_to_anchor=(823 / W, 1 - 586 / H),
          bbox_transform=fig.transFigure, ncol=3, frameon=False, fontsize=10, handlelength=3,
          handletextpad=0.2, columnspacing=1.6)
put(823, 553, "26城二手房成交面积同比增速（分线）", size=12.5, weight="bold")
put(587, 568, "(%)", size=10, color=TABLE)
put(783, 618, "3月3-9日", size=9.5, color=TABLE)
for cx, s in ((860, "一线"), (904, "二线"), (954, "三线")):
    put(cx, 617, s, size=9.5, color=TABLE)
put(792, 643, "年同比", size=9.5, color=TABLE)
put(792, 665, "周环比", size=9.5, color=TABLE)
for cx, a, b in ((857, "-27.4", "15.9"), (903, "-12.0", "8.5"), (955, "-40.3", "4.4")):
    put(cx, 642, a, size=10.5, color=TABLE)
    put(cx, 666, b, size=10.5, color=TABLE)

# ---------------- 5/6. 贝壳KMI ----------------
for (x0, x1, xmax, title, tx, ty, s50, s1, s2, s3, lx, ly) in (
        (69, 534, 21.0, "贝壳新房KMI指数", 310, 893, kmi_new_50, kmi_new_t1, kmi_new_t2, kmi_new_t3, 525, 993),
        (585, 1035, 20.1, "贝壳二手房KMI指数", 799, 893, kmi_old_50, kmi_old_t1, kmi_old_t2, kmi_old_t3, 1043, 1055)):
    ax = make_ax(x0, 920, x1, 1143)
    ax.plot(kmi_x, s2, color="#7F7F7F", lw=2.4, label="二线城市")
    ax.plot(kmi_x, s50, color=RED, lw=2.0, label="50城")
    ax.plot(kmi_x, s3, color="#F5A969", lw=2.0, label="三线城市")
    ax.plot(kmi_x, s1, color="black", lw=1.0, ls=(0, (3.5, 2)), label="一线城市")
    ax.set_xlim(0, xmax)
    ax.set_ylim(0, 100)
    ax.set_yticks(range(0, 101, 25))
    ax.set_xticks(range(0, 21, 4))
    ax.set_xticklabels(kmi_labels)
    h, l = ax.get_legend_handles_labels()
    order = [1, 3, 0, 2]
    ax.legend([h[i] for i in order], [l[i] for i in order], loc="center",
              bbox_to_anchor=((x0 + x1) / 2 / W + 0.004, 1 - 919 / H), bbox_transform=fig.transFigure,
              ncol=4, frameon=False, fontsize=10, handlelength=2.6, handletextpad=0.2, columnspacing=1.4)
    put(tx, ty, title, size=12.5, weight="bold")
    put(lx, ly, "52", size=11, color=RED)

# ---------------- 7. 100大中城市土地 ----------------
ax = make_ax(86, 1294, 530, 1472)
year_chart(ax, [("2019", land_x_2019, land_2019), ("2022", land_x_2022, land_2022),
                ("2023", land_x_2023, land_2023), ("2024", land_x_2024, land_2024)],
           (0, 11.97), (0, 7000), range(0, 7001, 1000))
legend(ax, 341, 1281, colsp=1.6, hl=2.6)
put(282, 1250, "100大中城市成交土地占地面积（周度）", size=12.5, weight="bold")
put(88, 1267, "（万平方米）", size=9, color=TABLE)

# ---------------- 8. 百城土地同比 ----------------
ax = make_ax(605, 1276, 1047, 1476)
zero_axis(ax, color="#A6A6A6", lw=2.0)
ax.plot(land_yoy_x, land_yoy, color=RED, lw=2.0)
ax.set_xlim(-0.06, 25.1)
ax.set_ylim(-60, 100)
ax.set_yticks(range(-60, 101, 20))
ax.set_xticks(range(0, 25, 4))
ax.set_xticklabels(land_yoy_labels)
put(806, 1263, "百城土地成交面积同比增速", size=12.5, weight="bold")
put(570, 1253, "(%)", size=10, color=TABLE)
put(1043, 1305, "69.4", size=11, color=RED)

# ---------------- 9. 发债利率 ----------------
ax = make_ax(48, 1553, 520, 1768)
ax.plot(rate_x, rate, color=RED, lw=2.0)
ax.set_xlim(0, 12.87)
ax.set_ylim(0, 5)
ax.set_yticks(range(0, 6))
ax.set_xticks(range(0, 13, 3))
ax.set_xticklabels(rate_labels)
put(275, 1517, "房地产企业发债加权利率(AAA,3周移动平均)", size=12.5, weight="bold")
put(52, 1528, "(%)", size=10, color=TABLE)
put(510, 1652, "2.4", size=11, color=RED, weight="bold")

# ---------------- 10. Iboxx到期收益率 ----------------
ax = make_ax(594, 1539, 1018, 1777)
ax.plot(yld_x, yld, color=RED, lw=1.8)
ax.set_xlim(-0.02, 4.07)
ax.set_ylim(10, 40)
ax.set_yticks(range(10, 41, 5))
ax.set_xticks(range(5))
ax.set_xticklabels(yld_labels)
put(816, 1522, "Iboxx海外地产债到期收益率", size=12.5, weight="bold")
put(587, 1521, "（%）", size=10, color=TABLE)
put(1023, 1722, "19.9", size=11, color=RED, weight="bold")

# ---------------- 11. 地产债发行 ----------------
ax = make_ax(81, 1851, 506, 2081)
zero_axis(ax, color="#404040", lw=1.0)
bx = list(range(len(bond_domestic)))
ax.bar(bx, bond_domestic, width=0.72, color="#A6A6A6", edgecolor="#303030", lw=0.7,
       label="国内地产债总发行", zorder=2)
ax.bar(bx, bond_overseas, bottom=bond_domestic, width=0.72, color="white", edgecolor="#303030",
       lw=0.7, label="海外地产债总发行", zorder=2)
ax.set_xlim(-0.5, 24.6)
ax.set_ylim(-1500, 1500)
ax.set_yticks(range(-1500, 1501, 500))
ax.yaxis.set_major_formatter(FuncFormatter(lambda v, p: f"{v:,.0f}"))
ax.set_xticks(range(0, 25, 4))
ax.set_xticklabels(bond_labels)
ax2 = ax.twinx()
ax2.patch.set_alpha(0)
for s in ("top", "left", "bottom"):
    ax2.spines[s].set_visible(False)
ax2.spines["right"].set_color(AXIS)
ax2.plot(bx, bond_yoy, color=RED, lw=1.8, zorder=3)
ax2.set_ylim(-100, 100)
ax2.set_yticks(range(-100, 101, 50))
ax2.tick_params(direction="out", length=4, width=1, color=AXIS, labelsize=10, pad=3)
ax.legend(handles=[Patch(facecolor="white", edgecolor="#303030", label="海外地产债总发行"),
                   Patch(facecolor="#A6A6A6", edgecolor="#303030", label="国内地产债总发行"),
                   Line2D([], [], color=RED, lw=2.2, label="房企债券总发行同比增速（右轴）")],
          loc="upper left", bbox_to_anchor=(162 / W, 1 - 1811 / H), bbox_transform=fig.transFigure,
          frameon=False, fontsize=10, handlelength=1.6, handletextpad=0.3, labelspacing=0.45, borderpad=0)
put(69, 1825, "(亿元)", size=10, color=TABLE)
put(527, 1825, "(%)", size=10, color=TABLE)
put(468, 2063, "-80.3", size=11, color=RED, weight="bold")

# ---------------- 12. Iboxx指数 ----------------
ax = make_ax(603, 1842, 1050, 2084)
ax.plot(idx_x, idx, color=RED, lw=1.8)
ax.set_xlim(0, 12.9)
ax.set_ylim(100, 220)
ax.set_yticks(range(100, 221, 20))
ax.set_xticks(range(0, 13, 2))
ax.set_xticklabels(idx_labels)
put(833, 1820, "Iboxx海外房地产指数走势", size=12.5, weight="bold")
put(598, 1819, "(x)", size=10, color=TABLE)
put(1030, 1982, "140.3", size=11, color=RED, weight="bold")

# ---------------- 13-18. 房建实物量 ----------------
charts = [
    ((65, 2204, 537, 2430), [al_x_2021, al_x_2022, al_x_2023, al_x_2024], [al_2021, al_2022, al_2023, al_2024],
     (0, 12), (20, 100), range(20, 101, 10), None,
     "铝型材开工率", (269, 2185), "(%)", (36, 2183), (289, 2212), "51.8", (176, 2341)),
    ((596, 2214, 1047, 2432), [ce_x_2021, ce_x_2022, ce_x_2023, ce_x_2024], [ce_2021, ce_2022, ce_2023, ce_2024],
     (0, 12.03), (0, 80), range(0, 81, 10), None,
     "水泥开工率", (809, 2188), "(%)", (573, 2185), (830, 2212), "23.9", (706, 2377)),
    ((62, 2491, 541, 2719), [gd_x_2021, gd_x_2022, gd_x_2023, gd_x_2024], [gd_2021, gd_2022, gd_2023, gd_2024],
     (0, 12.0), (0, 35), range(0, 36, 5), None,
     "玻璃深加工企业订单可用天数", (282, 2472), "(天)", (52, 2470), (305, 2510), "11.2", (163, 2665)),
    ((591, 2513, 1061, 2720), [fg_x_2021, fg_x_2022, fg_x_2023, fg_x_2024], [fg_2021, fg_2022, fg_2023, fg_2024],
     (0, 12.05), (75, 95), range(75, 96, 5), None,
     "浮法玻璃产能利用率（周度）", (813, 2478), "(%)", (590, 2488), (829, 2510), "86", (680, 2630)),
    ((63, 2799, 541, 3013), [ml_x_2021, ml_x_2022, ml_x_2023, ml_x_2024], [ml_2021, ml_2022, ml_2023, ml_2024],
     (0, 11.95), (15, 18), range(15, 19), None,
     "玻璃日熔量", (301, 2767), "(万吨)", (62, 2780), (307, 2790), "17.4", (160, 2869)),
    ((606, 2792, 1055, 3012), [inv_x_2021, inv_x_2022, inv_x_2023, inv_x_2024], [inv_2021, inv_2022, inv_2023, inv_2024],
     (0, 12.0), (1000, 8000), range(1000, 8001, 1000), "comma",
     "玻璃库存", (809, 2763), "(万重箱)", (592, 2769), (825, 2797), "5358", (656, 2863)),
]
for (box, xs, ys, xlim, ylim, yticks, fmt, title, tpos, unit, upos, lpos, val, vpos) in charts:
    ax = make_ax(*box)
    year_chart(ax, [(yr, x, y) for yr, x, y in zip(["2021", "2022", "2023", "2024"], xs, ys)],
               xlim, ylim, yticks)
    if fmt == "comma":
        ax.yaxis.set_major_formatter(FuncFormatter(lambda v, p: f"{v:,.0f}"))
    legend(ax, lpos[0], lpos[1], colsp=1.8, hl=2.6)
    put(tpos[0], tpos[1], title, size=12.5, weight="bold")
    put(upos[0], upos[1], unit, size=10, color=TABLE)
    put(vpos[0], vpos[1], val, size=11, color=RED, weight="bold")

# ---------------- footer ----------------
put(21, 3065, "数据来源：Mysteel, Wind，贝壳，华泰宏观研究", size=12, color="white", ha="left")
put(21, 3101, "免责声明：完整的研究观点请以华泰证券研究所2023年3月9日发布的《地产高频指标图集：复苏渐入佳境》易峘",
    size=12, color="white", ha="left")
put(21, 3124, "（S0570520100005）完整报告为准，本观点不构成华泰证券分析师的投资建议，投资者须自主决策，自担风险。",
    size=12, color="white", ha="left")

fig.savefig("out.png", dpi=100, facecolor=fig.get_facecolor())
